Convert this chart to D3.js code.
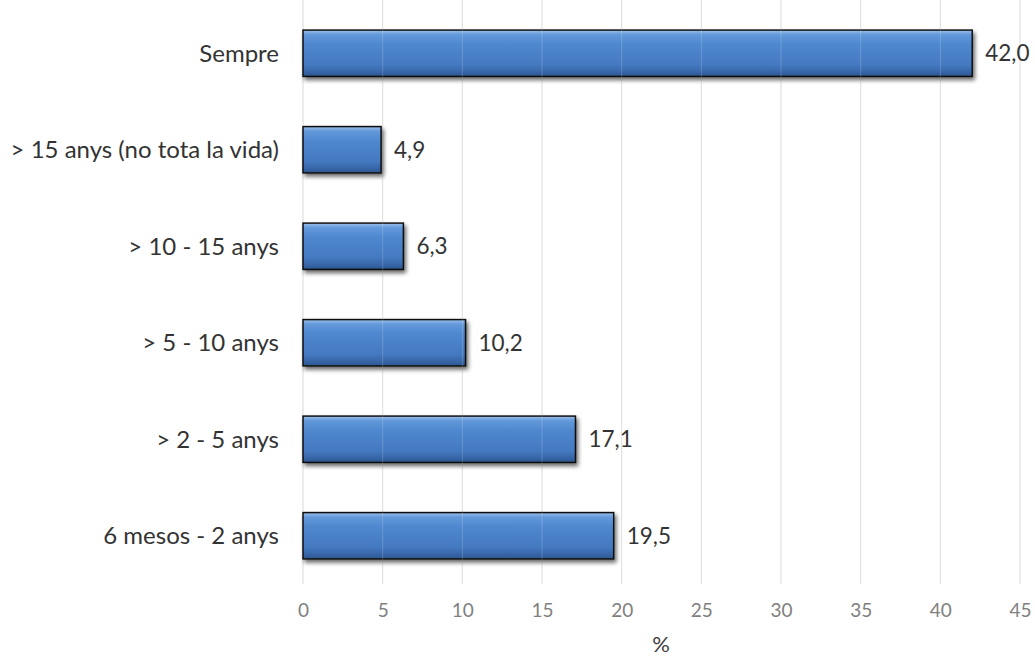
<!DOCTYPE html>
<html><head><meta charset="utf-8">
<script src="https://cdn.jsdelivr.net/npm/d3@7"></script>
<style>body{margin:0;background:#fff;}svg{display:block;font-family:Lato,"Open Sans",sans-serif;}</style>
</head><body><div id="chart"></div>
<script>
const categories = ["Sempre", "> 15 anys (no tota la vida)", "> 10 - 15 anys", "> 5 - 10 anys", "> 2 - 5 anys", "6 mesos - 2 anys"];
const values = [42.0, 4.9, 6.3, 10.2, 17.1, 19.5];
const xTicks = [0, 5, 10, 15, 20, 25, 30, 35, 40, 45];
const xTitle = "%";

const W = 1035, H = 657;
const FONT = "Lato,'Open Sans',sans-serif";
const svg = d3.select("#chart").append("svg").attr("width", W).attr("height", H);
const defs = svg.append("defs");
const g = defs.append("linearGradient").attr("id","barg").attr("x1",0).attr("y1",0).attr("x2",0).attr("y2",1);
[[0,"#9cc0ec"],[0.1,"#6399da"],[0.3,"#4f88cf"],[0.75,"#4479c0"],[0.9,"#3766a8"],[1,"#2b568f"]].forEach(([o,c])=>g.append("stop").attr("offset",o).attr("stop-color",c));
const f = defs.append("filter").attr("id","sh").attr("x","-5%").attr("y","-20%").attr("width","115%").attr("height","160%");
f.append("feGaussianBlur").attr("in","SourceAlpha").attr("stdDeviation",2);
f.append("feOffset").attr("dx",2).attr("dy",3).attr("result","b");
f.append("feComponentTransfer").append("feFuncA").attr("type","linear").attr("slope",0.6);
const m = f.append("feMerge"); m.append("feMergeNode"); m.append("feMergeNode").attr("in","SourceGraphic");

const x = d3.scaleLinear().domain([0,45]).range([303,1020]);
const y = d3.scaleBand().domain(categories).range([5,584]).paddingInner(0.52).paddingOuter(0.26);

// gridlines
svg.append("g").selectAll("line").data(xTicks).join("line")
  .attr("x1",d=>x(d)).attr("x2",d=>x(d)).attr("y1",0).attr("y2",584)
  .attr("stroke","#d9d9d9").attr("stroke-width",1);

// bars
svg.append("g").selectAll("rect").data(values).join("rect")
  .attr("x",x(0)).attr("y",(d,i)=>y(categories[i]))
  .attr("width",d=>x(d)-x(0)).attr("height",y.bandwidth())
  .attr("fill","url(#barg)").attr("stroke","#111").attr("stroke-width",1.5)
  .attr("filter","url(#sh)");

// faint gridlines through bars
svg.append("g").selectAll("line").data(xTicks.filter(d=>d>0)).join("line")
  .attr("x1",d=>x(d)).attr("x2",d=>x(d)).attr("y1",0).attr("y2",584)
  .attr("stroke","#ffffff").attr("stroke-opacity",0.18).attr("stroke-width",1);

// value labels
svg.append("g").selectAll("text").data(values).join("text")
  .attr("x",d=>x(d)+13).attr("y",(d,i)=>y(categories[i])+y.bandwidth()/2)
  .attr("dy","0.36em").attr("font-size",22.5).attr("fill","#333").attr("font-family",FONT)
  .text(d=>d.toFixed(1).replace(".",","));

// category labels
const yAxis = d3.axisLeft(y).tickSize(0).tickPadding(0);
const ya = svg.append("g").attr("transform","translate(279,0)").call(yAxis);
ya.select(".domain").remove();
ya.selectAll("text").attr("font-size",24).attr("fill","#333").attr("font-family",FONT).attr("dy","0.36em");

// x axis
const xAxis = d3.axisBottom(x).tickValues(xTicks).tickSize(0).tickPadding(0).tickFormat(d3.format("d"));
const xa = svg.append("g").attr("transform","translate(0,603)").call(xAxis);
xa.select(".domain").remove();
xa.selectAll("text").attr("font-size",19).attr("fill","#808080").attr("font-family",FONT);

svg.append("text").attr("x",661).attr("y",652).attr("text-anchor","middle").attr("font-size",22).attr("fill","#404040").attr("font-family",FONT).text(xTitle);
</script></body></html>
